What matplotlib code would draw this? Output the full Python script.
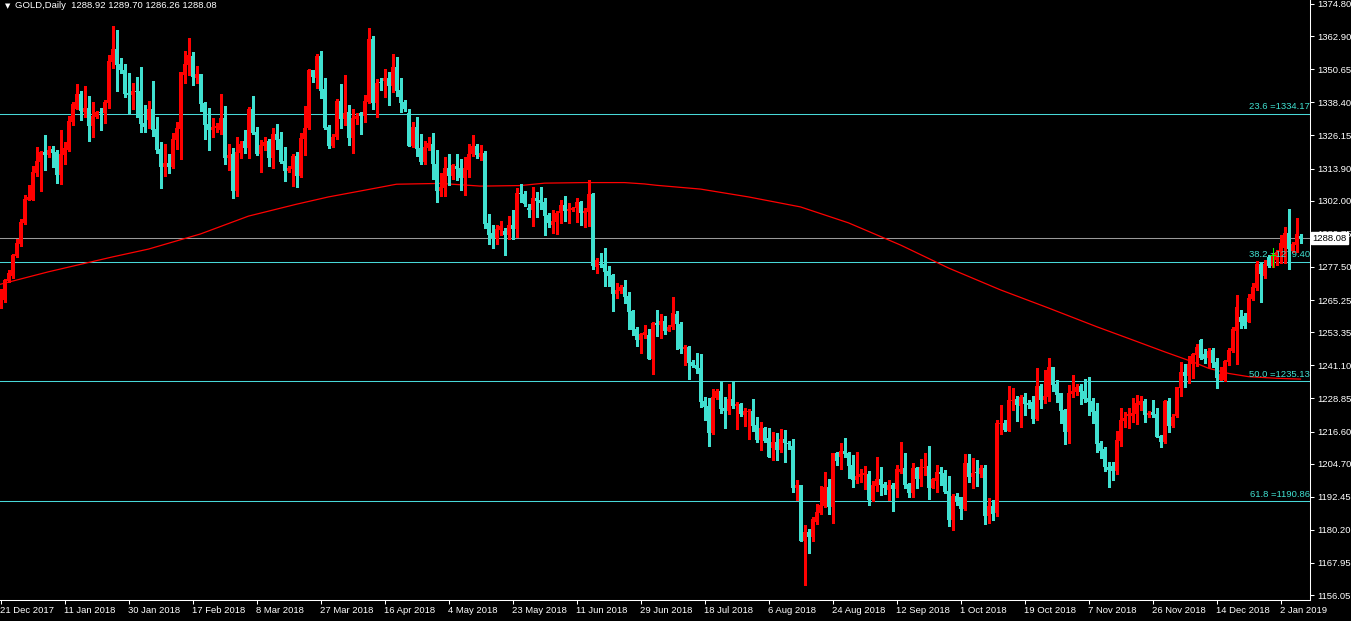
import matplotlib
matplotlib.use("Agg")
import matplotlib.pyplot as plt

# GOLD daily candles (one bar per entry, oldest first)
opens = [
    1264.9, 1265.3, 1272.4, 1274.3, 1281.7, 1285.9, 1293.6, 1302.3, 1302.3, 1312.3,
    1316.3, 1320.1, 1319.0, 1321.1, 1320.1, 1311.5, 1318.9, 1320.9, 1331.0, 1335.9,
    1341.5, 1334.9, 1336.4, 1329.6, 1333.1, 1334.7, 1334.3, 1338.3, 1353.4, 1358.1,
    1352.6, 1350.4, 1342.0, 1341.1, 1342.6, 1342.6, 1330.9, 1331.9, 1335.9, 1328.5,
    1321.1, 1314.4, 1315.8, 1314.6, 1324.5, 1328.5, 1348.5, 1352.2, 1355.5, 1347.5,
    1348.9, 1338.0, 1330.4, 1328.2, 1329.0, 1328.2, 1332.7, 1317.9, 1319.3, 1305.7,
    1319.8, 1324.1, 1321.6, 1335.9, 1327.3, 1319.3, 1322.4, 1324.1, 1317.9, 1326.7,
    1324.8, 1316.7, 1313.0, 1313.7, 1318.6, 1311.3, 1324.8, 1328.8, 1350.4, 1347.3,
    1355.5, 1343.3, 1329.2, 1322.2, 1325.7, 1338.9, 1332.2, 1334.7, 1325.3, 1332.2,
    1334.6, 1333.3, 1338.4, 1361.8, 1338.3, 1345.7, 1346.3, 1347.3, 1344.5, 1351.5,
    1343.0, 1338.4, 1334.3, 1322.2, 1329.4, 1321.4, 1316.4, 1321.4, 1323.0, 1315.6,
    1305.7, 1306.8, 1314.2, 1311.1, 1314.8, 1314.2, 1310.5, 1313.4, 1319.2, 1322.2,
    1318.3, 1319.8, 1293.9, 1290.2, 1288.1, 1291.2, 1290.8, 1289.3, 1293.0, 1291.5,
    1304.9, 1304.5, 1299.4, 1298.6, 1302.9, 1302.3, 1301.4, 1296.7, 1293.0, 1294.2,
    1297.3, 1300.4, 1298.2, 1298.6, 1299.4, 1301.6, 1297.3, 1297.9, 1304.5, 1277.6,
    1278.6, 1278.6, 1276.0, 1274.5, 1267.5, 1268.6, 1270.2, 1266.8, 1261.2, 1254.5,
    1250.5, 1252.3, 1252.3, 1243.4, 1256.6, 1256.1, 1257.5, 1253.8, 1255.2, 1260.1,
    1256.4, 1247.1, 1248.0, 1242.4, 1241.2, 1240.2, 1227.9, 1226.0, 1216.0, 1228.9,
    1231.6, 1225.4, 1224.2, 1228.6, 1226.0, 1226.7, 1222.7, 1223.8, 1224.2, 1219.0,
    1213.5, 1218.0, 1214.2, 1210.4, 1212.6, 1209.8, 1213.8, 1212.2, 1211.2, 1195.8,
    1196.8, 1176.2, 1179.5, 1177.7, 1183.2, 1186.3, 1189.0, 1196.2, 1188.8, 1208.5,
    1207.0, 1209.4, 1208.8, 1204.2, 1198.7, 1199.9, 1200.5, 1200.9, 1191.3, 1196.5,
    1199.0, 1197.2, 1195.0, 1196.8, 1195.3, 1201.7, 1203.0, 1197.2, 1193.7, 1203.0,
    1199.0, 1203.0, 1203.8, 1195.8, 1198.3, 1201.7, 1201.4, 1194.6, 1183.9, 1192.7,
    1192.5, 1187.9, 1205.1, 1199.7, 1201.4, 1200.9, 1203.0, 1185.3, 1189.0, 1186.5,
    1219.4, 1219.9, 1216.8, 1227.9, 1228.6, 1226.2, 1229.5, 1227.3, 1227.6, 1221.2,
    1233.4, 1228.3, 1229.5, 1240.4, 1234.2, 1230.7, 1224.6, 1216.5, 1230.4, 1231.3,
    1233.4, 1231.6, 1229.1, 1227.9, 1224.2, 1212.5, 1210.1, 1203.6, 1203.8, 1202.0,
    1213.1, 1220.5, 1222.5, 1222.5, 1223.0, 1226.4, 1227.9, 1222.7, 1223.7, 1223.1,
    1215.1, 1212.6, 1227.9, 1218.7, 1222.5, 1232.8, 1238.7, 1237.2, 1241.5, 1244.9,
    1250.5, 1245.2, 1243.7, 1246.8, 1242.4, 1235.7, 1235.7, 1242.4, 1246.5, 1253.9,
    1259.1, 1259.5, 1257.2, 1265.6, 1269.6, 1278.6, 1274.1, 1281.3, 1278.0, 1280.1,
    1282.9, 1284.4, 1290.2, 1283.4, 1285.6, 1288.92,
]
highs = [
    1269.3, 1273.0, 1276.4, 1282.4, 1287.8, 1295.2, 1304.1, 1307.8, 1314.8, 1321.9,
    1320.3, 1326.3, 1322.2, 1322.2, 1320.8, 1328.2, 1323.8, 1333.2, 1338.6, 1345.2,
    1342.6, 1344.4, 1340.8, 1338.4, 1335.3, 1336.3, 1339.3, 1355.9, 1366.6, 1365.2,
    1354.7, 1352.6, 1349.1, 1345.4, 1347.7, 1351.4, 1337.4, 1338.9, 1346.3, 1332.9,
    1323.8, 1323.0, 1319.3, 1326.9, 1331.1, 1349.7, 1357.4, 1362.3, 1357.1, 1351.8,
    1348.9, 1338.4, 1336.2, 1332.7, 1330.6, 1341.5, 1337.0, 1322.9, 1321.4, 1325.5,
    1324.1, 1328.2, 1336.8, 1340.8, 1329.4, 1324.5, 1325.6, 1324.7, 1328.8, 1330.4,
    1327.3, 1321.9, 1314.8, 1319.3, 1320.1, 1327.2, 1337.0, 1350.9, 1350.4, 1356.3,
    1357.4, 1347.5, 1330.0, 1326.7, 1339.5, 1345.2, 1348.5, 1337.4, 1335.8, 1334.3,
    1334.9, 1341.1, 1365.9, 1362.9, 1346.9, 1347.3, 1350.6, 1349.5, 1356.3, 1355.1,
    1347.3, 1339.3, 1335.8, 1331.0, 1333.1, 1326.7, 1324.1, 1325.7, 1326.9, 1320.8,
    1312.1, 1318.1, 1319.3, 1315.5, 1319.3, 1317.4, 1318.1, 1323.0, 1326.3, 1323.0,
    1322.6, 1320.5, 1297.0, 1293.0, 1293.0, 1294.5, 1292.0, 1296.3, 1298.6, 1306.8,
    1308.2, 1305.6, 1300.8, 1307.2, 1305.3, 1307.2, 1303.1, 1297.6, 1298.6, 1298.3,
    1302.3, 1303.8, 1301.3, 1299.8, 1303.1, 1301.9, 1299.4, 1309.7, 1305.0, 1280.7,
    1282.5, 1284.4, 1277.8, 1274.8, 1271.4, 1270.8, 1272.7, 1268.2, 1261.6, 1255.4,
    1253.2, 1256.0, 1254.5, 1257.2, 1261.6, 1260.1, 1259.3, 1256.0, 1266.5, 1261.3,
    1257.0, 1248.6, 1248.4, 1243.1, 1245.8, 1245.3, 1229.3, 1228.9, 1232.3, 1232.3,
    1235.0, 1229.5, 1234.2, 1234.8, 1227.4, 1227.0, 1225.4, 1224.9, 1228.6, 1222.1,
    1220.2, 1218.4, 1217.9, 1216.3, 1216.2, 1217.5, 1217.2, 1213.1, 1213.8, 1198.7,
    1196.8, 1182.0, 1180.5, 1185.1, 1189.8, 1196.5, 1201.7, 1199.0, 1208.8, 1209.1,
    1212.5, 1214.3, 1209.1, 1207.9, 1209.1, 1202.7, 1203.8, 1202.1, 1198.4, 1207.3,
    1203.6, 1198.0, 1198.7, 1197.4, 1204.2, 1212.8, 1208.8, 1197.4, 1204.8, 1203.6,
    1206.4, 1208.8, 1211.2, 1199.5, 1204.2, 1203.6, 1202.4, 1200.1, 1193.4, 1193.7,
    1192.5, 1208.3, 1208.3, 1206.7, 1206.1, 1204.2, 1204.2, 1191.9, 1191.3, 1220.9,
    1226.4, 1220.9, 1233.4, 1232.8, 1229.7, 1230.1, 1231.0, 1228.3, 1229.7, 1240.2,
    1234.2, 1239.4, 1243.9, 1240.4, 1235.7, 1230.9, 1224.8, 1233.8, 1237.5, 1234.1,
    1234.1, 1236.0, 1236.6, 1229.1, 1227.3, 1213.1, 1211.0, 1205.3, 1205.3, 1216.8,
    1225.2, 1223.7, 1225.4, 1229.1, 1230.1, 1229.9, 1228.6, 1224.2, 1228.3, 1225.2,
    1215.3, 1228.3, 1229.1, 1223.0, 1233.2, 1242.4, 1241.5, 1244.5, 1245.5, 1248.9,
    1250.8, 1247.1, 1247.4, 1247.4, 1243.7, 1240.4, 1243.1, 1247.6, 1255.4, 1267.1,
    1261.6, 1260.3, 1267.5, 1271.4, 1279.8, 1279.4, 1280.1, 1281.9, 1282.6, 1283.8,
    1289.3, 1292.4, 1298.9, 1286.8, 1295.7, 1289.70,
]
lows = [
    1262.4, 1264.6, 1272.0, 1273.3, 1281.3, 1285.4, 1293.3, 1302.3, 1302.3, 1311.3,
    1305.6, 1313.4, 1318.3, 1314.6, 1308.7, 1308.2, 1315.6, 1320.4, 1330.0, 1335.9,
    1331.9, 1333.1, 1324.1, 1325.7, 1332.7, 1328.2, 1330.9, 1336.2, 1351.2, 1342.7,
    1349.1, 1340.5, 1334.3, 1335.8, 1332.9, 1327.5, 1327.5, 1329.0, 1325.9, 1319.8,
    1306.8, 1311.3, 1312.1, 1314.2, 1321.1, 1317.4, 1345.7, 1348.5, 1344.8, 1345.7,
    1335.3, 1324.8, 1320.8, 1325.7, 1327.5, 1326.7, 1315.7, 1313.4, 1302.9, 1303.9,
    1317.7, 1319.5, 1317.7, 1326.7, 1318.9, 1312.7, 1320.8, 1314.8, 1314.0, 1321.1,
    1315.8, 1309.4, 1312.5, 1307.5, 1307.2, 1310.9, 1318.9, 1328.5, 1345.8, 1343.6,
    1339.9, 1328.5, 1321.4, 1321.8, 1324.8, 1328.8, 1330.0, 1322.6, 1319.8, 1330.4,
    1326.7, 1331.2, 1338.0, 1335.8, 1333.1, 1343.0, 1340.3, 1337.4, 1342.3, 1340.7,
    1334.9, 1335.3, 1322.2, 1322.0, 1318.6, 1315.5, 1315.5, 1320.8, 1310.0, 1301.6,
    1303.8, 1303.9, 1307.8, 1309.9, 1309.7, 1306.0, 1304.1, 1310.9, 1318.6, 1317.7,
    1317.1, 1291.8, 1286.0, 1284.6, 1286.0, 1289.3, 1281.9, 1287.7, 1287.7, 1288.4,
    1301.6, 1300.2, 1295.9, 1292.8, 1296.1, 1298.8, 1289.3, 1292.4, 1289.9, 1289.7,
    1293.9, 1294.5, 1293.6, 1298.2, 1294.2, 1293.0, 1292.2, 1292.6, 1276.7, 1275.4,
    1277.6, 1270.4, 1270.4, 1261.2, 1265.9, 1268.0, 1264.3, 1254.5, 1252.3, 1248.2,
    1245.8, 1251.3, 1243.4, 1237.9, 1252.0, 1251.3, 1252.8, 1253.8, 1254.4, 1247.1,
    1245.5, 1241.2, 1236.0, 1240.4, 1238.4, 1225.8, 1220.9, 1211.4, 1215.6, 1228.5,
    1223.6, 1218.0, 1223.1, 1225.4, 1217.4, 1222.3, 1218.7, 1213.8, 1216.8, 1212.8,
    1209.8, 1212.8, 1207.3, 1206.1, 1206.1, 1209.1, 1205.4, 1210.1, 1194.3, 1191.3,
    1176.2, 1159.8, 1171.8, 1176.1, 1182.4, 1186.1, 1188.6, 1186.1, 1182.9, 1204.2,
    1202.7, 1207.0, 1199.3, 1196.2, 1197.4, 1198.0, 1195.3, 1189.4, 1190.9, 1194.7,
    1193.1, 1193.5, 1191.3, 1187.3, 1192.3, 1201.1, 1195.6, 1192.5, 1192.5, 1195.6,
    1196.4, 1200.5, 1191.6, 1195.6, 1194.3, 1196.8, 1193.7, 1181.6, 1180.2, 1189.4,
    1184.2, 1187.6, 1198.0, 1195.6, 1196.4, 1199.9, 1182.4, 1182.6, 1183.9, 1185.5,
    1215.7, 1216.9, 1216.8, 1224.6, 1220.5, 1218.4, 1222.7, 1225.4, 1219.9, 1220.9,
    1225.4, 1227.3, 1227.9, 1231.6, 1227.6, 1219.9, 1211.9, 1212.5, 1229.3, 1230.1,
    1226.8, 1227.6, 1222.7, 1219.9, 1209.1, 1206.7, 1202.0, 1196.1, 1198.7, 1200.9,
    1211.4, 1218.4, 1218.0, 1220.2, 1219.4, 1224.6, 1220.2, 1222.1, 1222.1, 1214.7,
    1211.0, 1212.2, 1216.5, 1218.4, 1222.1, 1229.9, 1233.2, 1234.6, 1236.5, 1240.9,
    1243.3, 1241.8, 1240.6, 1240.6, 1232.8, 1235.7, 1235.4, 1241.2, 1246.1, 1241.6,
    1254.8, 1254.8, 1257.2, 1265.3, 1269.0, 1264.6, 1273.3, 1277.6, 1277.5, 1278.2,
    1278.9, 1278.9, 1276.7, 1283.1, 1283.1, 1286.26,
]
closes = [
    1268.1, 1272.7, 1275.1, 1281.9, 1286.4, 1294.2, 1302.6, 1303.5, 1312.5, 1316.7,
    1320.1, 1319.0, 1320.9, 1319.8, 1311.5, 1319.2, 1321.6, 1331.5, 1337.8, 1341.5,
    1335.2, 1336.4, 1329.6, 1333.5, 1334.7, 1334.3, 1338.4, 1353.7, 1358.1, 1352.2,
    1350.4, 1341.5, 1341.2, 1342.7, 1342.3, 1330.4, 1329.4, 1335.9, 1328.2, 1320.8,
    1314.6, 1315.8, 1314.6, 1324.8, 1328.9, 1349.5, 1352.6, 1355.9, 1347.9, 1348.9,
    1337.8, 1330.0, 1328.2, 1329.4, 1329.6, 1332.7, 1317.9, 1318.9, 1305.7, 1320.1,
    1323.0, 1321.6, 1335.9, 1326.9, 1319.3, 1322.6, 1323.8, 1317.9, 1326.7, 1324.5,
    1316.4, 1313.0, 1314.0, 1318.7, 1311.3, 1325.1, 1328.8, 1350.4, 1347.7, 1355.5,
    1342.7, 1328.8, 1322.2, 1325.7, 1339.0, 1332.2, 1334.6, 1325.3, 1332.6, 1333.3,
    1333.3, 1338.9, 1361.8, 1338.3, 1345.4, 1345.4, 1347.3, 1344.5, 1351.5, 1342.6,
    1338.3, 1335.8, 1322.2, 1329.4, 1321.1, 1316.4, 1321.8, 1323.2, 1315.5, 1305.7,
    1307.1, 1314.2, 1311.1, 1315.2, 1313.6, 1310.5, 1314.0, 1319.3, 1322.2, 1318.9,
    1319.8, 1293.4, 1289.3, 1288.1, 1291.5, 1292.6, 1289.3, 1293.0, 1291.5, 1304.9,
    1304.6, 1300.7, 1298.6, 1303.1, 1301.9, 1301.3, 1296.5, 1293.6, 1294.5, 1297.6,
    1300.4, 1298.2, 1298.9, 1299.4, 1301.6, 1297.6, 1298.3, 1304.5, 1277.8, 1280.1,
    1278.2, 1275.7, 1274.1, 1267.5, 1269.0, 1270.2, 1266.5, 1260.9, 1254.2, 1250.5,
    1252.7, 1253.3, 1243.4, 1256.6, 1256.0, 1257.5, 1253.8, 1255.4, 1260.6, 1256.3,
    1247.1, 1248.0, 1242.1, 1240.8, 1239.7, 1227.6, 1225.8, 1216.0, 1229.3, 1231.6,
    1224.9, 1224.2, 1228.6, 1226.0, 1226.7, 1223.0, 1224.2, 1224.2, 1218.6, 1213.5,
    1218.0, 1213.2, 1207.3, 1212.8, 1209.8, 1213.8, 1212.2, 1211.9, 1195.8, 1196.8,
    1176.2, 1179.3, 1177.7, 1184.2, 1186.7, 1189.4, 1196.2, 1188.8, 1208.8, 1205.8,
    1209.4, 1208.3, 1204.0, 1198.7, 1200.1, 1200.9, 1201.1, 1191.3, 1196.8, 1198.9,
    1196.8, 1195.6, 1196.8, 1195.3, 1202.6, 1202.7, 1196.8, 1193.7, 1203.0, 1199.0,
    1203.4, 1203.6, 1195.8, 1199.0, 1201.7, 1200.9, 1194.3, 1183.9, 1192.9, 1190.9,
    1187.9, 1205.1, 1199.7, 1201.1, 1201.1, 1203.0, 1185.3, 1189.0, 1186.1, 1219.9,
    1219.9, 1217.2, 1228.3, 1228.3, 1226.4, 1229.5, 1226.8, 1226.4, 1221.2, 1233.4,
    1228.3, 1229.7, 1240.4, 1233.8, 1230.1, 1224.2, 1216.5, 1230.7, 1231.6, 1233.2,
    1231.3, 1228.6, 1227.6, 1224.0, 1212.0, 1209.4, 1203.5, 1202.4, 1202.0, 1213.5,
    1220.9, 1221.7, 1223.0, 1223.6, 1227.3, 1227.9, 1222.7, 1223.3, 1222.7, 1214.7,
    1212.8, 1227.9, 1218.7, 1222.1, 1233.2, 1238.7, 1237.2, 1241.5, 1245.2, 1248.0,
    1243.7, 1243.3, 1246.4, 1242.1, 1236.3, 1237.9, 1242.7, 1246.8, 1254.4, 1262.6,
    1257.2, 1255.8, 1265.9, 1270.2, 1278.6, 1274.8, 1278.6, 1278.0, 1281.5, 1283.1,
    1286.2, 1289.9, 1284.1, 1285.9, 1289.6, 1288.08,
]

# red moving average, sampled along the line (bar index, price)
ma_bars = [0, 12, 28, 37, 50, 62, 74, 82, 90, 99, 110, 120, 130, 136, 146, 156,
           161, 164, 175, 187, 200, 212, 225, 237, 250, 262, 274, 283, 291, 298,
           302, 307, 312, 319, 325]
ma_vals = [1271.1, 1275.7, 1281.2, 1284.1, 1289.7, 1296.3, 1300.7, 1303.4, 1305.6,
           1308.1, 1308.4, 1307.4, 1307.6, 1308.5, 1308.7, 1308.7, 1308.2, 1307.7,
           1306.3, 1303.4, 1299.7, 1293.8, 1285.6, 1277.1, 1269.0, 1262.3, 1255.4,
           1250.5, 1246.1, 1242.4, 1240.0, 1238.1, 1236.9, 1236.3, 1236.0]

fib_levels = [1334.17, 1279.40, 1235.13, 1190.86]
fib_names = ["23.6", "38.2", "50.0", "61.8"]

price_ticks = [1374.80, 1362.90, 1350.65, 1338.40, 1326.15, 1313.90, 1302.00,
               1289.75, 1277.50, 1265.25, 1253.35, 1241.10, 1228.85, 1216.60,
               1204.70, 1192.45, 1180.20, 1167.95, 1156.05]

date_labels = ["21 Dec 2017", "11 Jan 2018", "30 Jan 2018", "17 Feb 2018",
               "8 Mar 2018", "27 Mar 2018", "16 Apr 2018", "4 May 2018",
               "23 May 2018", "11 Jun 2018", "29 Jun 2018", "18 Jul 2018",
               "6 Aug 2018", "24 Aug 2018", "12 Sep 2018", "1 Oct 2018",
               "19 Oct 2018", "7 Nov 2018", "26 Nov 2018", "14 Dec 2018",
               "2 Jan 2019"]
bars_per_label = 16

last_price = 1288.08
fib_anchor_bar = 318
fib_anchor_price = 1281.9

BULL = "#ff0000"
BEAR = "#40e0d0"
FONT = ["Liberation Sans", "DejaVu Sans"]
plt.rcParams["font.family"] = FONT

fig = plt.figure(figsize=(13.51, 6.21), dpi=100, facecolor="black")
ax = fig.add_axes([0, 21 / 621, 1310 / 1351, 600 / 621], facecolor="black")

n = len(closes)
xs = list(range(n))
cols = [BULL if c >= o else BEAR for o, c in zip(opens, closes)]
bottoms = [min(o, c) for o, c in zip(opens, closes)]
heights = [max(abs(c - o), 0.4) for o, c in zip(opens, closes)]

# fibonacci levels
for lv, nm in zip(fib_levels, fib_names):
    ax.axhline(lv, color="#48d8d8", lw=0.75, zorder=1)
    ax.text(n + 1.4, lv + 0.9, f"{nm} ={lv:.2f}", color=BEAR, fontsize=6.8,
            ha="right", va="bottom", zorder=5)

# current price line
ax.axhline(last_price, color="#9a9a9a", lw=0.75, zorder=1)

ax.plot(ma_bars, ma_vals, color="#ff0000", lw=0.9, zorder=2)

ax.vlines(xs, lows, highs, colors=cols, lw=0.75, zorder=3, antialiased=False)
ax.bar(xs, heights, bottom=bottoms, width=0.75, color=cols, linewidth=0,
       zorder=4, antialiased=False)

# fibonacci anchor marker
ax.plot([fib_anchor_bar, fib_anchor_bar], [fib_anchor_price - 4.4, fib_anchor_price + 2.6],
        color="#00ff00", lw=0.75, zorder=6)
ax.plot([fib_anchor_bar - 0.6, fib_anchor_bar + 0.6], [fib_anchor_price] * 2,
        color="#00ff00", lw=0.75, zorder=6)

ax.set_xlim(-0.125, 327.375)
ax.set_ylim(1376.26 - 0.37 * 600, 1376.26)

for s in ["top", "left"]:
    ax.spines[s].set_visible(False)
for s in ["right", "bottom"]:
    ax.spines[s].set_color("white")
    ax.spines[s].set_linewidth(0.75)

ax.yaxis.tick_right()
ax.set_yticks(price_ticks)
ax.set_yticklabels([f"{p:.2f}" for p in price_ticks])
ax.tick_params(axis="y", colors="white", length=3, width=0.75, labelsize=6.8, pad=2)

tick_pos = [k * bars_per_label for k in range(len(date_labels))]
ax.set_xticks(tick_pos)
ax.set_xticklabels(date_labels)
ax.tick_params(axis="x", colors="white", length=3, width=0.75, labelsize=6.8, pad=1)
for t in ax.get_xticklabels():
    t.set_horizontalalignment("left")

# last price box on the price scale
ax.annotate(f"{last_price:.2f}", xy=(1.0, last_price), xycoords=("axes fraction", "data"),
            xytext=(2, 0), textcoords="offset points", ha="left", va="center",
            fontsize=6.8, color="black", zorder=10, annotation_clip=False,
            bbox=dict(boxstyle="square,pad=0.15", fc="white", ec="white"))

fig.text(5 / 1351, 1 - 6 / 621, "\u25bc", color="white", fontsize=5, ha="left",
         va="center", family=["DejaVu Sans"])
fig.text(15 / 1351, 1 - 6 / 621, "GOLD,Daily  1288.92 1289.70 1286.26 1288.08",
         color="white", fontsize=6.8, ha="left", va="center")

fig.savefig("out.png", dpi=100, facecolor="black")
